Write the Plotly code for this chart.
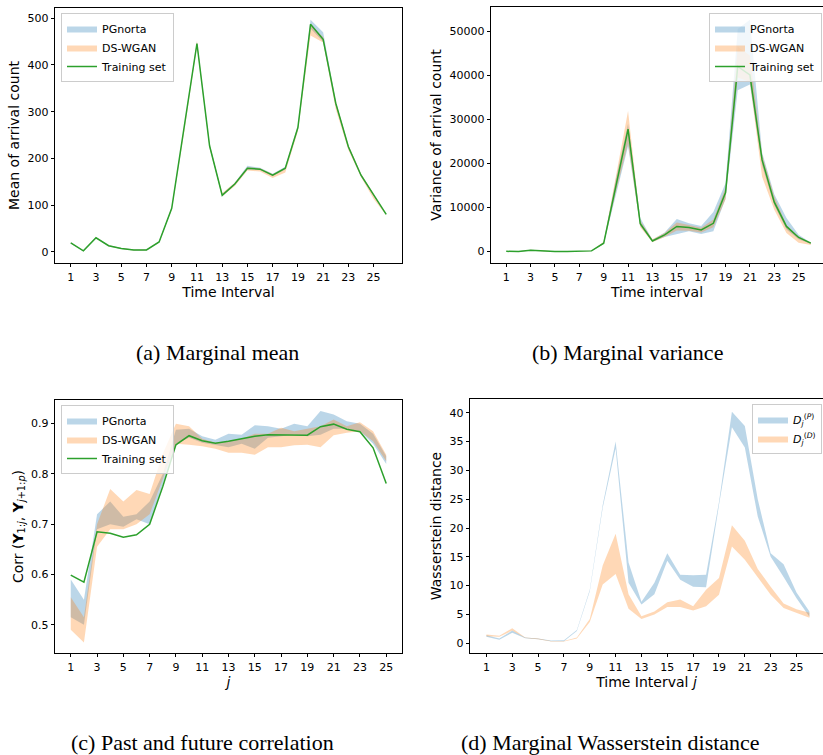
import plotly.graph_objects as go

W, H = 823, 755

# ---------------- data ----------------
x_time = list(range(1, 27))
x_corr = list(range(1, 26))
xticks = list(range(1, 26, 2))

# (a) marginal mean
train_a = [19, 2, 30, 13, 7, 4, 4, 21, 93, 265, 446, 227, 121, 145, 179, 177, 164, 179, 266, 487, 455, 318, 225, 164, 122, 80]
pg_a_lo = [18, 1, 29, 12, 6, 3, 3, 20, 91, 262, 443, 224, 119, 143, 176, 175, 162, 176, 262, 478, 450, 314, 222, 162, 120, 79]
pg_a_hi = [20, 3, 31, 14, 8, 5, 5, 22, 95, 268, 449, 230, 124, 148, 184, 180, 167, 182, 270, 497, 470, 322, 228, 167, 124, 81]
ds_a_lo = [18, 1, 29, 12, 6, 3, 3, 20, 90, 258, 440, 222, 119, 141, 174, 172, 158, 170, 258, 463, 448, 305, 218, 160, 113, 78]
ds_a_hi = [20, 3, 31, 14, 8, 5, 5, 22, 95, 268, 452, 230, 126, 148, 181, 179, 166, 180, 268, 485, 460, 322, 228, 167, 124, 81]

# (b) marginal variance
train_b = [50, 0, 300, 100, 30, 20, 20, 150, 1900, 14800, 27800, 6300, 2400, 3800, 5700, 5450, 4900, 6400, 13400, 42000, 40100, 20800, 11200, 5700, 3200, 1900]
pg_b_lo = [0, 0, 200, 50, 10, 10, 10, 100, 1700, 13000, 23900, 5800, 2200, 3300, 4000, 4600, 4000, 4600, 12000, 36600, 37900, 19500, 10500, 5000, 2800, 1700]
pg_b_hi = [100, 50, 400, 150, 50, 30, 30, 200, 2100, 16500, 29000, 7600, 2700, 4300, 7400, 6400, 5800, 9000, 15500, 50500, 52600, 22500, 13000, 7600, 3800, 2000]
ds_b_lo = [0, 0, 200, 50, 10, 10, 10, 100, 1700, 13500, 24500, 5500, 2100, 3300, 4800, 4700, 4300, 5500, 11800, 39500, 38500, 17000, 9500, 4200, 2000, 1500]
ds_b_hi = [100, 50, 400, 150, 50, 30, 30, 200, 2200, 17500, 31900, 7000, 2800, 4200, 6600, 6000, 5400, 7300, 14500, 46500, 44500, 22000, 12500, 6000, 3400, 2000]

# (c) past/future correlation
train_c = [0.599, 0.585, 0.685, 0.682, 0.674, 0.679, 0.700, 0.775, 0.858, 0.876, 0.866, 0.861, 0.865, 0.870, 0.875, 0.878, 0.878, 0.877, 0.877, 0.894, 0.899, 0.889, 0.884, 0.852, 0.781]
pg_c_lo = [0.515, 0.500, 0.690, 0.700, 0.695, 0.710, 0.700, 0.780, 0.860, 0.872, 0.862, 0.858, 0.853, 0.860, 0.850, 0.872, 0.875, 0.878, 0.875, 0.878, 0.890, 0.890, 0.885, 0.860, 0.820]
pg_c_hi = [0.590, 0.550, 0.720, 0.745, 0.715, 0.720, 0.745, 0.800, 0.888, 0.890, 0.875, 0.868, 0.880, 0.878, 0.897, 0.895, 0.890, 0.900, 0.895, 0.925, 0.918, 0.905, 0.900, 0.880, 0.835]
ds_c_lo = [0.490, 0.465, 0.655, 0.690, 0.690, 0.700, 0.720, 0.790, 0.860, 0.858, 0.855, 0.850, 0.842, 0.842, 0.838, 0.853, 0.853, 0.857, 0.858, 0.853, 0.877, 0.882, 0.885, 0.865, 0.825]
ds_c_hi = [0.555, 0.515, 0.700, 0.770, 0.745, 0.768, 0.760, 0.840, 0.900, 0.895, 0.870, 0.862, 0.865, 0.870, 0.880, 0.880, 0.892, 0.885, 0.890, 0.895, 0.908, 0.895, 0.903, 0.885, 0.838]

# (d) marginal Wasserstein distance
pg_d_lo = [1.1, 0.6, 1.8, 0.85, 0.7, 0.35, 0.35, 2.1, 9.0, 23.5, 33.8, 10.5, 6.7, 8.5, 14.3, 11.0, 9.8, 9.7, 24.0, 37.5, 34.0, 22.0, 15.0, 11.5, 7.8, 4.6]
pg_d_hi = [1.4, 0.8, 2.2, 1.0, 0.8, 0.45, 0.5, 2.3, 9.3, 24.0, 35.0, 14.0, 7.2, 10.5, 15.6, 11.9, 11.8, 11.9, 24.5, 40.2, 37.7, 25.0, 15.6, 13.7, 8.8, 5.5]
ds_d_lo = [1.2, 1.1, 2.2, 0.9, 0.7, 0.3, 0.3, 0.8, 3.7, 10.2, 12.0, 6.0, 4.2, 5.0, 6.3, 6.3, 5.7, 6.4, 8.4, 16.8, 14.5, 11.5, 8.4, 6.1, 5.3, 4.4]
ds_d_hi = [1.5, 1.3, 2.6, 1.0, 0.8, 0.4, 0.4, 1.0, 4.2, 13.5, 19.0, 8.5, 4.7, 5.5, 7.1, 7.6, 6.4, 9.3, 11.3, 20.5, 17.8, 12.9, 9.8, 6.9, 5.9, 5.3]

BLUE_FILL = "rgba(31,119,180,0.3)"
ORANGE_FILL = "rgba(255,127,14,0.3)"
GREEN = "#2ca02c"
FONT = "DejaVu Sans"

fig = go.Figure()


def band(x, lo, hi, color, name, xa, ya, legend):
    fig.add_trace(go.Scatter(
        x=list(x) + list(x)[::-1], y=list(hi) + list(lo)[::-1],
        fill="toself", fillcolor=color, mode="lines", line=dict(width=0, color=color),
        name=name, xaxis=xa, yaxis=ya, legend=legend, hoverinfo="skip"))


def line(x, y, name, xa, ya, legend):
    fig.add_trace(go.Scatter(x=x, y=y, mode="lines", line=dict(color=GREEN, width=1.5),
                             name=name, xaxis=xa, yaxis=ya, legend=legend))


band(x_time, pg_a_lo, pg_a_hi, BLUE_FILL, "PGnorta", "x", "y", "legend")
band(x_time, ds_a_lo, ds_a_hi, ORANGE_FILL, "DS-WGAN", "x", "y", "legend")
line(x_time, train_a, "Training set", "x", "y", "legend")

band(x_time, pg_b_lo, pg_b_hi, BLUE_FILL, "PGnorta", "x2", "y2", "legend2")
band(x_time, ds_b_lo, ds_b_hi, ORANGE_FILL, "DS-WGAN", "x2", "y2", "legend2")
line(x_time, train_b, "Training set", "x2", "y2", "legend2")

band(x_corr, pg_c_lo, pg_c_hi, BLUE_FILL, "PGnorta", "x3", "y3", "legend3")
band(x_corr, ds_c_lo, ds_c_hi, ORANGE_FILL, "DS-WGAN", "x3", "y3", "legend3")
line(x_corr, train_c, "Training set", "x3", "y3", "legend3")

band(x_time, pg_d_lo, pg_d_hi, BLUE_FILL, "<i>D</i><sub><i>j</i></sub><sup>(<i>P</i>)</sup>", "x4", "y4", "legend4")
band(x_time, ds_d_lo, ds_d_hi, ORANGE_FILL, "<i>D</i><sub><i>j</i></sub><sup>(<i>D</i>)</sup>", "x4", "y4", "legend4")


def px_x(a, b):
    return [a / W, min(b / W, 1.0)]


def px_y(top, bottom):
    return [1 - bottom / H, 1 - top / H]


def axis(domain, rng, title, tickvals, anchor):
    return dict(domain=domain, range=rng, anchor=anchor,
                title=dict(text=title, font=dict(family=FONT, size=14, color="black"), standoff=4),
                tickmode="array", tickvals=tickvals,
                ticks="outside", ticklen=3.5, tickwidth=0.8, tickcolor="black",
                showline=True, linecolor="black", linewidth=0.8, mirror=True,
                showgrid=False, zeroline=False, automargin=False,
                tickfont=dict(family=FONT, size=11, color="black"))


legend_style = dict(bgcolor="rgba(255,255,255,0.8)", bordercolor="#cccccc", borderwidth=1,
                    font=dict(family=FONT, size=11, color="black"), tracegroupgap=0)

fig.update_layout(
    width=W, height=H, margin=dict(l=0, r=0, t=0, b=0),
    paper_bgcolor="white", plot_bgcolor="white",
    xaxis=axis(px_x(55, 402), [-0.25, 27.25], "Time Interval", xticks, "y"),
    yaxis=axis(px_y(8, 263), [-24, 522], "Mean of arrival count", [0, 100, 200, 300, 400, 500], "x"),
    xaxis2=axis(px_x(491, 823), [-0.25, 27.0], "Time interval", xticks, "y2"),
    yaxis2=axis(px_y(7, 263), [-2600, 55500], "Variance of arrival count",
                [0, 10000, 20000, 30000, 40000, 50000], "x2"),
    xaxis3=axis(px_x(55, 402), [-0.2, 26.2], "<i>j</i>", xticks, "y3"),
    yaxis3=axis(px_y(400, 653), [0.444, 0.947],
                "Corr (<b>Y</b><sub>1:<i>j</i></sub>, <b>Y</b><sub><i>j</i>+1:<i>p</i></sub>)",
                [0.5, 0.6, 0.7, 0.8, 0.9], "x3"),
    xaxis4=axis(px_x(470, 823), [-0.27, 27.05], "Time Interval <i>j</i>", xticks, "y4"),
    yaxis4=axis(px_y(399, 653), [-1.7, 42.4], "Wasserstein distance",
                [0, 5, 10, 15, 20, 25, 30, 35, 40], "x4"),
    legend=dict(x=61 / W, y=1 - 13 / H, xanchor="left", yanchor="top", **legend_style),
    legend2=dict(x=822 / W, y=1 - 13 / H, xanchor="right", yanchor="top", **legend_style),
    legend3=dict(x=61 / W, y=1 - 405 / H, xanchor="left", yanchor="top", **legend_style),
    legend4=dict(x=822 / W, y=1 - 404 / H, xanchor="right", yanchor="top", **legend_style),
    showlegend=True,
)
fig.update_yaxes(tickformat="d")
fig.update_layout(yaxis3=dict(tickformat=".1f"))

captions = [
    ("(a) Marginal mean", 217, 352),
    ("(b) Marginal variance", 627, 352),
    ("(c) Past and future correlation", 202, 742),
    ("(d) Marginal Wasserstein distance", 610, 742),
]
for text, cx, cy in captions:
    fig.add_annotation(text=text, x=cx / W, y=1 - cy / H, xref="paper", yref="paper",
                       xanchor="center", yanchor="middle", showarrow=False,
                       font=dict(family="Liberation Serif", size=22, color="black"))

fig.write_html(
    "out.html",
    config={"displayModeBar": False},
    post_script="document.body.style.margin='0';document.body.style.overflow='hidden';",
)
